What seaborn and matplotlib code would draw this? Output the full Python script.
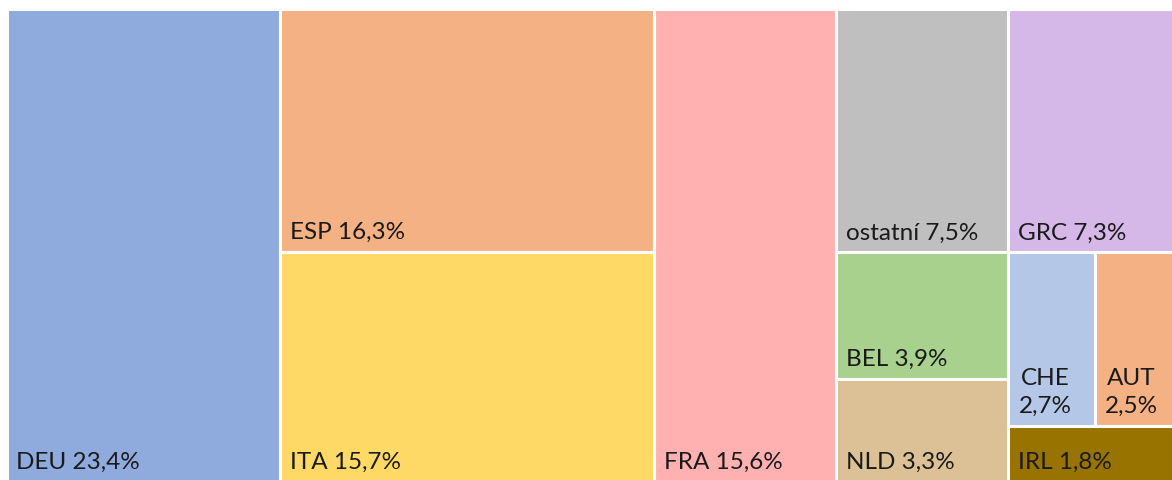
import matplotlib
matplotlib.use("Agg")
import matplotlib.pyplot as plt
from matplotlib.patches import Rectangle
import seaborn as sns

# Share of each country (percent)
countries = ["DEU", "ESP", "ITA", "FRA", "ostatní", "GRC", "BEL", "NLD", "CHE", "AUT", "IRL"]
shares = [23.4, 16.3, 15.7, 15.6, 7.5, 7.3, 3.9, 3.3, 2.7, 2.5, 1.8]
colors = ["#8FAADC", "#F4B183", "#FFD966", "#FFB1B1", "#BFBFBF", "#D5B8E8",
          "#A9D18E", "#DBC195", "#B4C7E7", "#F4B183", "#997300"]

# Nesting of the treemap (alternating horizontal / vertical slicing)
tree = [["DEU"], ["ESP", "ITA"], ["FRA"],
        [["ostatní", "GRC"], [["BEL", "NLD"], [["CHE", "AUT"], ["IRL"]]]]]

value = dict(zip(countries, shares))
color = dict(zip(countries, colors))


def total(node):
    if isinstance(node, str):
        return value[node]
    return sum(total(c) for c in node)


def layout(node, x, y, w, h, horizontal, out):
    if isinstance(node, str):
        out[node] = (x, y, w, h)
        return
    t = total(node)
    pos = 0.0
    for child in node:
        frac = total(child) / t
        if horizontal:
            layout(child, x + pos * w, y, w * frac, h, not horizontal, out)
        else:
            layout(child, x, y + pos * h, w, h * frac, not horizontal, out)
        pos += frac


sns.set_theme(style="white")
plt.rcParams["font.family"] = ["Lato", "DejaVu Sans"]

fig = plt.figure(figsize=(11.72, 4.81), dpi=100)
ax = fig.add_axes([0, 0, 1, 1])
ax.set_xlim(0, 1172)
ax.set_ylim(481, 0)
ax.axis("off")

rects = {}
layout(tree, 6.5, 9.5, 1169, 478, True, rects)

for name in countries:
    x, y, w, h = rects[name]
    ax.add_patch(Rectangle((x, y), w, h, facecolor=color[name],
                           edgecolor="white", linewidth=2.2))
    pct = f"{value[name]:.1f}".replace(".", ",") + "%"
    label = f"{name}\n{pct}" if w < 100 else f"{name} {pct}"
    bottom = min(y + h, 483)
    ax.text(x + 10, bottom - 10, label, ha="left", va="bottom",
            multialignment="center", fontsize=17.5, color="#1a1a1a",
            linespacing=1.45)

fig.savefig("out.png", dpi=100)
